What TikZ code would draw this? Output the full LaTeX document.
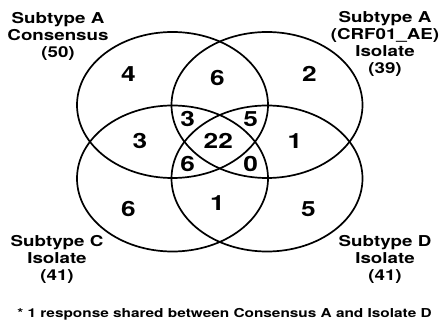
\documentclass[tikz,border=0pt]{standalone}
\usepackage{fontspec}
\setmainfont[FakeStretch=1.25,BoldFont={TeX Gyre Heros Bold}]{TeX Gyre Heros}
\usetikzlibrary{shapes.geometric}
\newcommand{\labfont}{\fontsize{15}{17}\selectfont\bfseries}
\newcommand{\numfont}{\fontsize{21}{21}\selectfont\bfseries}
\newcommand{\notefont}{\fontsize{12.3}{14}\selectfont\bfseries}
\newcommand{\stack}[1]{\setlength{\tabcolsep}{0pt}\begin{tabular}[t]{c}#1\end{tabular}}
\begin{document}
\begin{tikzpicture}[x=1pt,y=-1pt,
  venn/.style={draw, ellipse, line width=1.7pt, minimum width=191pt, minimum height=146pt, inner sep=0pt},
  num/.style={font=\numfont, inner sep=0pt},
  lab/.style={font=\labfont, anchor=base, inner sep=0pt}]
\useasboundingbox (0,0) rectangle (439,320);
\node[venn] (A)  at (172.5,105) {};
\node[venn] (AE) at (267,105) {};
\node[venn] (C)  at (172.5,178.5) {};
\node[venn] (D)  at (267,178.5) {};
% numbers
\node[num] (n1)  at (128.3,74.3) {4};
\node[num] (n2)  at (217.3,78.3) {6};
\node[num] (n3)  at (309.3,74.3) {2};
\node[num] (n4)  at (140,140.7) {3};
\node[num] (n5)  at (187.7,119) {3};
\node[num] (n6)  at (250.7,119) {5};
\node[num] (n7)  at (218.3,140.7) {22};
\node[num] (n8)  at (295,140.7) {1};
\node[num] (n9)  at (187.7,164) {6};
\node[num] (n10) at (250.7,164) {0};
\node[num] (n11) at (128.3,209.3) {6};
\node[num] (n12) at (217.3,203.3) {1};
\node[num] (n13) at (308.3,209.3) {5};
% labels
\node[lab] (lA)  at (58,24) {\stack{Subtype A\\Consensus\\(50)}};
\node[lab] (lAE) at (385,23) {\stack{Subtype A\\(CRF01\_AE)\\Isolate\\(39)}};
\node[lab] (lC)  at (57,247) {\stack{Subtype C\\Isolate\\(41)}};
\node[lab] (lD)  at (385,247) {\stack{Subtype D\\Isolate\\(41)}};
\node[font=\notefont, anchor=base, inner sep=0pt] (note) at (224.5,318) {* 1 response shared between Consensus A and Isolate D};
\end{tikzpicture}
\end{document}
